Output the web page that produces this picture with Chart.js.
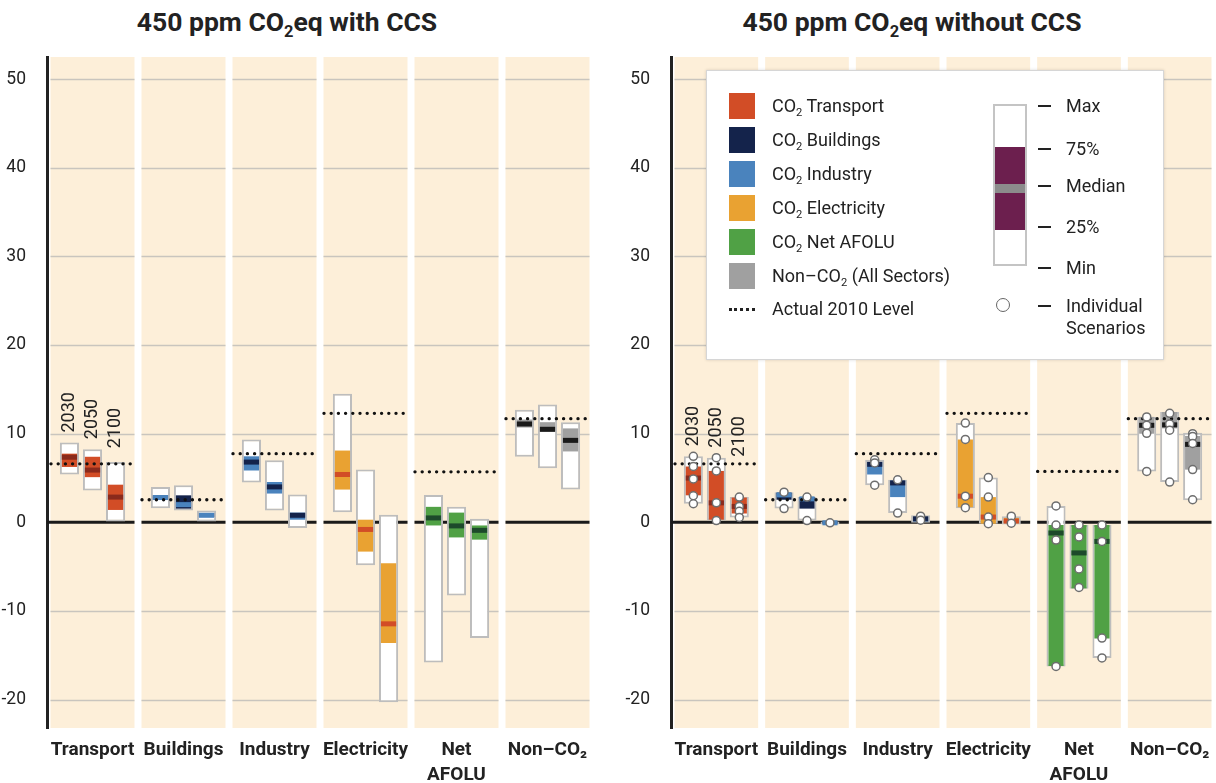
<!DOCTYPE html>
<html>
<head>
<meta charset="utf-8">
<script src="https://cdn.jsdelivr.net/npm/chart.js@4.4.1/dist/chart.umd.min.js"></script>
<style>
  body { margin: 0; background: #fff; font-family: Roboto, "Open Sans", sans-serif; color: #222; }
  #page { position: relative; width: 1216px; height: 783px; overflow: hidden; }
  .title { position: absolute; top: 6px; transform: translateX(-50%); font-weight: bold; font-size: 26.5px; white-space: nowrap; }
  .title sub, #legend sub { font-size: 0.62em; vertical-align: -0.35em; line-height: 0; }
  #wrapLeft { position: absolute; left: 0; top: 0; width: 600px; height: 783px; }
  #wrapRight { position: absolute; left: 600px; top: 0; width: 616px; height: 783px; }
  #legend { position: absolute; left: 706px; top: 70px; width: 456px; height: 288px; background: #fff;
            border: 1px solid #d6d6d6; box-shadow: 0 0 3px rgba(0,0,0,0.15); font-size: 18px; }
  #legend .sw { position: absolute; left: 22px; width: 26px; height: 26px; }
  #legend .tx { position: absolute; left: 65px; white-space: nowrap; line-height: 22px; }
  #legend .dots { position: absolute; left: 22px; width: 26px; border-top: 3px dotted #222; }
  #legend .dash { position: absolute; left: 331px; width: 13px; border-top: 2px solid #222; }
  #legend .lab { position: absolute; left: 359px; white-space: nowrap; line-height: 22px; }
</style>
</head>
<body>
<div id="page">
  <div class="title" style="left:287px">450 ppm CO<sub>2</sub>eq with CCS</div>
  <div class="title" style="left:912px">450 ppm CO<sub>2</sub>eq without CCS</div>
  <div id="wrapLeft"><canvas id="chartLeft"></canvas></div>
  <div id="wrapRight"><canvas id="chartRight"></canvas></div>
  <div id="legend">
    <div class="sw" style="top:22px;background:#d24d26"></div><div class="tx" style="top:24px">CO<sub>2</sub> Transport</div>
    <div class="sw" style="top:56px;background:#14234b"></div><div class="tx" style="top:58px">CO<sub>2</sub> Buildings</div>
    <div class="sw" style="top:90px;background:#4a83bd"></div><div class="tx" style="top:92px">CO<sub>2</sub> Industry</div>
    <div class="sw" style="top:124px;background:#e9a232"></div><div class="tx" style="top:126px">CO<sub>2</sub> Electricity</div>
    <div class="sw" style="top:158px;background:#50a145"></div><div class="tx" style="top:160px">CO<sub>2</sub> Net AFOLU</div>
    <div class="sw" style="top:192px;background:#a0a0a0"></div><div class="tx" style="top:194px">Non–CO<sub>2</sub> (All Sectors)</div>
    <div class="dots" style="top:237px"></div><div class="tx" style="top:227px">Actual 2010 Level</div>

    <div style="position:absolute;left:286px;top:33px;width:30px;height:158px;border:2px solid #c4c4c4;background:#fff"></div>
    <div style="position:absolute;left:288px;top:76px;width:30px;height:83px;background:#6c1f4e"></div>
    <div style="position:absolute;left:288px;top:113px;width:30px;height:9px;background:#8c8c8c"></div>
    <div class="dash" style="top:34px"></div><div class="lab" style="top:24px">Max</div>
    <div class="dash" style="top:77px"></div><div class="lab" style="top:67px">75%</div>
    <div class="dash" style="top:114px"></div><div class="lab" style="top:104px">Median</div>
    <div class="dash" style="top:155px"></div><div class="lab" style="top:145px">25%</div>
    <div class="dash" style="top:196px"></div><div class="lab" style="top:186px">Min</div>
    <div style="position:absolute;left:289px;top:227px;width:12px;height:12px;border:1.5px solid #666;border-radius:50%"></div>
    <div class="dash" style="top:234px"></div><div class="lab" style="top:224px">Individual<br>Scenarios</div>
  </div>
</div>
<script>
const sectors = ['Transport', 'Buildings', 'Industry', 'Electricity', ['Net', 'AFOLU'], 'Non–CO₂'];
const years = ['2030', '2050', '2100'];

// 450 ppm CO2eq with CCS, one row per sector, columns 2030 / 2050 / 2100 (GtCO2eq/yr)
const ccsMax = [[9.0, 8.25, 6.8], [4.0, 4.2, 1.35], [9.35, 7.0, 3.15], [14.5, 5.95, 0.85], [3.1, 1.75, 0.4], [12.7, 13.3, 11.3]];
const ccsQ3 = [[7.75, 7.4, 4.25], [3.05, 3.05, 1.05], [7.45, 4.55, 1.1], [8.1, 0.3, -4.6], [1.75, 1.1, -0.35], [11.6, 11.3, 10.6]];
const ccsMedian = [[7.35, 5.9, 2.85], [2.8, 2.0, 0.8], [6.8, 4.0, 0.8], [5.4, -0.8, -11.45], [0.5, -0.4, -0.9], [11.1, 10.5, 9.25]];
const ccsQ1 = [[6.25, 5.1, 1.4], [2.55, 1.55, 0.6], [5.85, 3.25, 0.3], [3.7, -3.3, -13.6], [-0.35, -1.7, -1.95], [10.7, 10.2, 8.0]];
const ccsMin = [[5.4, 3.6, 0.1], [1.6, 1.35, 0.1], [4.5, 1.35, -0.65], [1.15, -4.85, -20.3], [-15.8, -8.25, -13.05], [7.4, 6.1, 3.7]];
const ccsLevel2010 = [6.6, 2.55, 7.75, 12.3, 5.7, 11.7];

// 450 ppm CO2eq without CCS
const noCcsMax = [[7.45, 7.3, 2.85], [3.4, 2.85, 0.1], [7.05, 4.8, 0.8], [11.2, 5.05, 0.7], [1.85, -0.3, -0.3], [11.9, 12.45, 10.1]];
const noCcsQ3 = [[6.3, 5.8, 2.8], [3.35, 2.85, 0.05], [6.8, 4.7, 0.6], [9.35, 2.85, 0.5], [-0.3, -0.3, -0.3], [11.9, 12.45, 9.75]];
const noCcsMedian = [[5.0, 2.2, 1.8], [3.1, 2.65, -0.05], [6.55, 4.45, 0.4], [2.95, 0.6, 0.15], [-1.2, -3.45, -2.15], [10.95, 11.0, 8.8]];
const noCcsQ1 = [[3.05, 0.3, 1.0], [2.55, 1.55, -0.15], [5.4, 2.85, 0.1], [1.7, -0.15, -0.1], [-16.2, -7.45, -13.1], [10.0, 10.6, 5.95]];
const noCcsMin = [[2.1, 0.2, 0.55], [1.55, 0.2, -0.25], [4.2, 1.05, -0.05], [1.6, -0.15, -0.25], [-16.25, -7.5, -15.3], [5.75, 4.55, 2.5]];
const noCcsLevel2010 = [6.6, 2.55, 7.75, 12.3, 5.75, 11.7];
const noCcsScenarios = [
  [[7.45, 6.3, 4.9, 3.0, 2.1], [7.3, 5.8, 2.2, 0.2], [2.85, 1.8, 1.25, 0.55]],
  [[3.4, 1.55], [2.85, 0.2], [-0.05]],
  [[7.05, 6.7, 4.2], [4.8, 1.05], [0.7, 0.25]],
  [[11.2, 9.35, 2.95, 1.65], [5.05, 2.85, 0.6, -0.15], [0.7, -0.1]],
  [[1.85, -0.3, -2.0, -16.25], [-0.3, -1.65, -5.25, -7.35], [-0.3, -2.15, -13.05, -15.3]],
  [[11.9, 10.95, 10.05, 5.75], [12.3, 11.1, 10.4, 4.55], [10.0, 9.7, 8.9, 5.95, 2.55]]
];

const yTicks = [-20, -10, 0, 10, 20, 30, 40, 50];

const fillColors = ['#d24d26', '#14234b', '#4a83bd', '#e9a232', '#50a145', '#a0a0a0'];
const medianColors = ['#8a2a1c', '#4a83bd', '#14234b', '#d24d26', '#1d4a2b', '#1a1a1a'];
const bandColor = '#fdefd9';

const panelPlugin = {
  id: 'panel',
  beforeDraw(chart) {
    const {ctx, chartArea: a, scales: {x, y}} = chart;
    const w = x.width / sectors.length;
    ctx.save();
    sectors.forEach((s, i) => {
      const cx = x.getPixelForValue(i);
      const l = cx - w / 2 + 3.5, r = cx + w / 2 - 3.5;
      ctx.fillStyle = bandColor;
      ctx.fillRect(l, a.top, r - l, a.bottom - a.top);
      ctx.strokeStyle = '#c9c5be';
      ctx.lineWidth = 1.5;
      yTicks.forEach(t => {
        if (t === 0) return;
        const py = Math.round(y.getPixelForValue(t)) + 0.5;
        ctx.beginPath(); ctx.moveTo(l, py); ctx.lineTo(r, py); ctx.stroke();
      });
    });
    ctx.restore();
  },
  beforeDatasetsDraw(chart) {
    const {ctx, scales: {x, y}} = chart;
    const w = x.width / sectors.length;
    const py = y.getPixelForValue(0);
    ctx.save();
    ctx.strokeStyle = '#1a1a1a';
    ctx.lineWidth = 3;
    sectors.forEach((s, i) => {
      const cx = x.getPixelForValue(i);
      ctx.beginPath(); ctx.moveTo(cx - w / 2 + (i === 0 ? 0 : 3.5), py); ctx.lineTo(cx + w / 2 - 3.5, py); ctx.stroke();
    });
    ctx.restore();
  },
  afterDatasetsDraw(chart, args, opts) {
    const {ctx, scales: {x, y}} = chart;
    const w = x.width / sectors.length;
    ctx.save();
    // medians
    years.forEach((yr, k) => {
      const meta = chart.getDatasetMeta(3 + k);
      meta.data.forEach((el, i) => {
        const py = y.getPixelForValue(opts.median[i][k]);
        ctx.fillStyle = medianColors[i];
        ctx.fillRect(el.x - el.width / 2, py - 2.5, el.width, 5);
      });
    });
    // actual 2010 level
    ctx.strokeStyle = '#111';
    ctx.lineWidth = 3.4;
    ctx.lineCap = 'round';
    ctx.setLineDash([0, 7.2]);
    opts.level.forEach((v, i) => {
      const cx = x.getPixelForValue(i);
      const py = y.getPixelForValue(v);
      ctx.beginPath(); ctx.moveTo(cx - w / 2 + 4, py); ctx.lineTo(cx + w / 2 - 3, py); ctx.stroke();
    });
    ctx.setLineDash([]);
    // individual scenarios
    if (opts.scenarios) {
      years.forEach((yr, k) => {
        const meta = chart.getDatasetMeta(k);
        meta.data.forEach((el, i) => {
          opts.scenarios[i][k].forEach(v => {
            ctx.beginPath();
            ctx.arc(el.x, y.getPixelForValue(v), 4, 0, Math.PI * 2);
            ctx.fillStyle = '#fff'; ctx.fill();
            ctx.strokeStyle = '#6e6e6e'; ctx.lineWidth = 1.5; ctx.stroke();
          });
        });
      });
    }
    // year labels above the transport boxes
    ctx.fillStyle = '#222';
    ctx.font = '18px Roboto, "Open Sans", sans-serif';
    ctx.textAlign = 'left';
    ctx.textBaseline = 'middle';
    let prev = Infinity;
    years.forEach((yr, k) => {
      const el = chart.getDatasetMeta(k).data[0];
      const bottom = Math.min(y.getPixelForValue(opts.max[0][k]) - 10, prev + 9);
      prev = bottom;
      ctx.save();
      ctx.translate(el.x, bottom);
      ctx.rotate(-Math.PI / 2);
      ctx.fillText(yr, 0, 0);
      ctx.restore();
    });
    ctx.restore();
  }
};

function makeChart(id, stats, yWidth, padRight) {
  const datasets = [];
  years.forEach((yr, k) => {
    datasets.push({
      label: 'Range ' + yr,
      data: sectors.map((s, i) => [stats.min[i][k], stats.max[i][k]]),
      stack: 's' + k,
      backgroundColor: '#ffffff',
      borderColor: '#bdbdbd',
      borderWidth: 2,
      borderSkipped: false,
      barPercentage: 0.83,
      categoryPercentage: 0.76,
      order: 2
    });
  });
  years.forEach((yr, k) => {
    datasets.push({
      label: 'Interquartile ' + yr,
      data: sectors.map((s, i) => [stats.q1[i][k], stats.q3[i][k]]),
      stack: 's' + k,
      backgroundColor: fillColors,
      borderWidth: 0,
      barPercentage: 0.66,
      categoryPercentage: 0.76,
      order: 1
    });
  });

  return new Chart(document.getElementById(id), {
    type: 'bar',
    data: { labels: sectors, datasets },
    plugins: [panelPlugin],
    options: {
      responsive: true,
      maintainAspectRatio: false,
      animation: false,
      layout: { padding: { top: 57, right: padRight, bottom: 0, left: 0 } },
      plugins: {
        legend: { display: false },
        tooltip: { enabled: false },
        panel: { median: stats.median, level: stats.level, scenarios: stats.scenarios, max: stats.max }
      },
      scales: {
        x: {
          stacked: true,
          grid: { display: false },
          border: { display: false },
          ticks: { color: '#222', padding: 2, font: { family: 'Roboto', size: 19, weight: 'bold', lineHeight: 1.3 }, maxRotation: 0 },
          afterFit(scale) { scale.height = 55; }
        },
        y: {
          stacked: false,
          min: -23.2,
          max: 52.5,
          grid: { display: false },
          border: { display: true, color: '#222', width: 3 },
          ticks: { color: '#222', padding: 13, font: { family: 'Roboto', size: 17.5 } },
          afterBuildTicks(scale) { scale.ticks = yTicks.map(v => ({ value: v })); },
          afterFit(scale) { scale.width = yWidth; }
        }
      }
    }
  });
}

makeChart('chartLeft', {
  max: ccsMax, q3: ccsQ3, median: ccsMedian, q1: ccsQ1, min: ccsMin, level: ccsLevel2010
}, 47, 7);

makeChart('chartRight', {
  max: noCcsMax, q3: noCcsQ3, median: noCcsMedian, q1: noCcsQ1, min: noCcsMin, level: noCcsLevel2010, scenarios: noCcsScenarios
}, 71, 1);
</script>
</body>
</html>
